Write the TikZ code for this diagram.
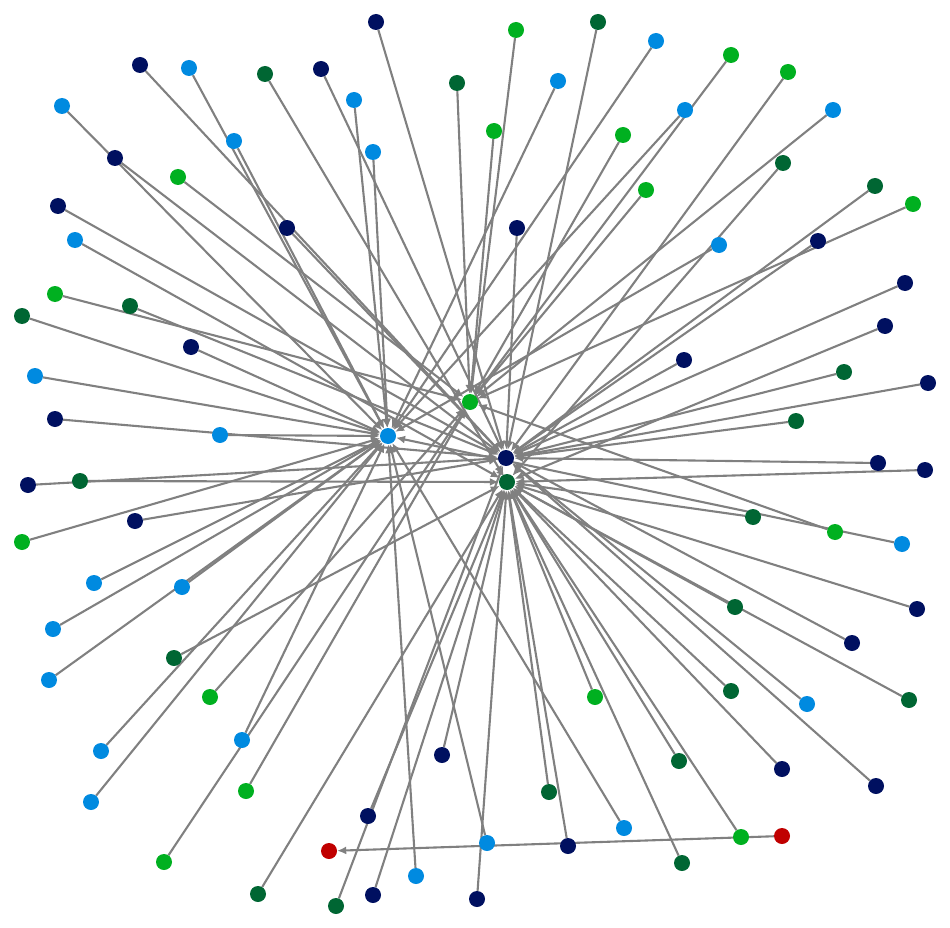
\documentclass[tikz,border=0pt]{standalone}
\usetikzlibrary{arrows.meta}
\definecolor{nv}{RGB}{0,16,96}
\definecolor{bl}{RGB}{0,138,224}
\definecolor{gr}{RGB}{0,176,32}
\definecolor{dg}{RGB}{0,102,51}
\definecolor{rd}{RGB}{192,0,0}
\definecolor{eg}{RGB}{128,128,128}
\pgfdeclarelayer{bg}
\pgfsetlayers{bg,main}
\tikzset{
  dot/.style={circle,inner sep=0pt,minimum size=16pt,draw=none},
  edge/.style={draw=eg,line width=2.1pt,-{Latex[length=9pt,width=8pt]}}
}
\begin{document}
\begin{tikzpicture}[x=1pt,y=-1pt]
\useasboundingbox (0,0) rectangle (950,928);
% hubs
\node[dot,fill=bl] (hB) at (388,436) {};
\node[dot,fill=gr] (hG) at (470,402) {};
\node[dot,fill=nv] (hN) at (506,458) {};
\node[dot,fill=dg] (hD) at (507,482) {};
\node[dot,fill=rd] (r1) at (782,836) {};
\node[dot,fill=rd] (r2) at (329,851) {};
% leaves
\foreach \n/\x/\y/\c in {
a1/376/22/nv, a2/140/65/nv, a3/189/68/bl, a4/265/74/dg, a5/321/69/nv,
a6/354/100/bl, a7/373/152/bl, a8/457/83/dg, a9/62/106/bl, a10/115/158/nv,
a11/234/141/bl, a12/178/177/gr, a13/287/228/nv, a14/58/206/nv, a15/75/240/bl,
a16/55/294/gr, a17/130/306/dg, a18/22/316/dg, a19/191/347/nv, a20/35/376/bl,
a21/55/419/nv, a22/220/435/bl, a23/28/485/nv, a24/80/481/dg, a25/22/542/gr,
a26/135/521/nv, a27/94/583/bl, a28/182/587/bl, a29/53/629/bl, a30/49/680/bl,
a31/174/658/dg, a32/210/697/gr, a33/101/751/bl, a34/242/740/bl, a35/91/802/bl,
a36/246/791/gr, a37/164/862/gr, a38/258/894/dg, a39/368/816/nv, a40/336/906/dg,
a41/373/895/nv, a42/416/876/bl, a43/442/755/nv, a44/487/843/bl, a45/477/899/nv,
a46/549/792/dg, a47/568/846/nv, a48/624/828/bl, a49/595/697/gr, a50/682/863/dg,
a51/679/761/dg, a52/741/837/gr, a53/782/769/nv, a54/731/691/dg, a55/807/704/bl,
a56/876/786/nv, a57/909/700/dg, a58/735/607/dg, a59/852/643/nv, a60/917/609/nv,
a61/902/544/bl, a62/835/532/gr, a63/753/517/dg, a64/878/463/nv, a65/925/470/nv,
a66/796/421/dg, a67/928/383/nv, a68/844/372/dg, a69/885/326/nv, a70/905/283/nv,
a71/913/204/gr, a72/818/241/nv, a73/875/186/dg, a74/783/163/dg, a75/719/245/bl,
a76/833/110/bl, a77/788/72/gr, a78/731/55/gr, a79/685/110/bl, a80/656/41/bl,
a81/598/22/dg, a82/516/30/gr, a83/558/81/bl, a84/494/131/gr, a85/623/135/gr,
a86/646/190/gr, a87/517/228/nv, a88/684/360/nv}
  \node[dot,fill=\c] (\n) at (\x,\y) {};
\begin{pgfonlayer}{bg}
\foreach \s/\t in {
a1/hN, a2/hN, a3/hB, a4/hD, a5/hN, a6/hB, a7/hB, a8/hG, a9/hB, a10/hN,
a11/hB, a12/hG, a13/hN, a14/hN, a15/hD, a16/hG, a17/hN, a18/hB, a19/hB, a20/hB,
a21/hN, a22/hB, a23/hN, a24/hD, a25/hB, a26/hN, a27/hB, a28/hB, a29/hB, a30/hB,
a31/hD, a32/hG, a33/hB, a34/hB, a35/hB, a36/hG, a37/hG, a38/hD, a39/hD, a40/hN,
a41/hD, a42/hB, a43/hD, a44/hB, a45/hD, a46/hD, a47/hD, a48/hB, a49/hD, a50/hD,
a51/hD, a52/hD, a53/hD, a54/hD, a55/hN, a56/hN, a57/hD, a58/hD, a59/hN, a60/hD,
a61/hB, a62/hG, a63/hD, a64/hN, a65/hD, a66/hN, a67/hN, a68/hN, a69/hD, a70/hN,
a71/hG, a72/hN, a73/hN, a74/hD, a75/hB, a76/hG, a77/hN, a78/hG, a79/hB, a80/hB,
a81/hN, a82/hG, a83/hB, a84/hG, a85/hG, a86/hG, a87/hN, a88/hN, r1/r2}
  \draw[edge] (\s) -- (\t);
\end{pgfonlayer}
\end{tikzpicture}
\end{document}
